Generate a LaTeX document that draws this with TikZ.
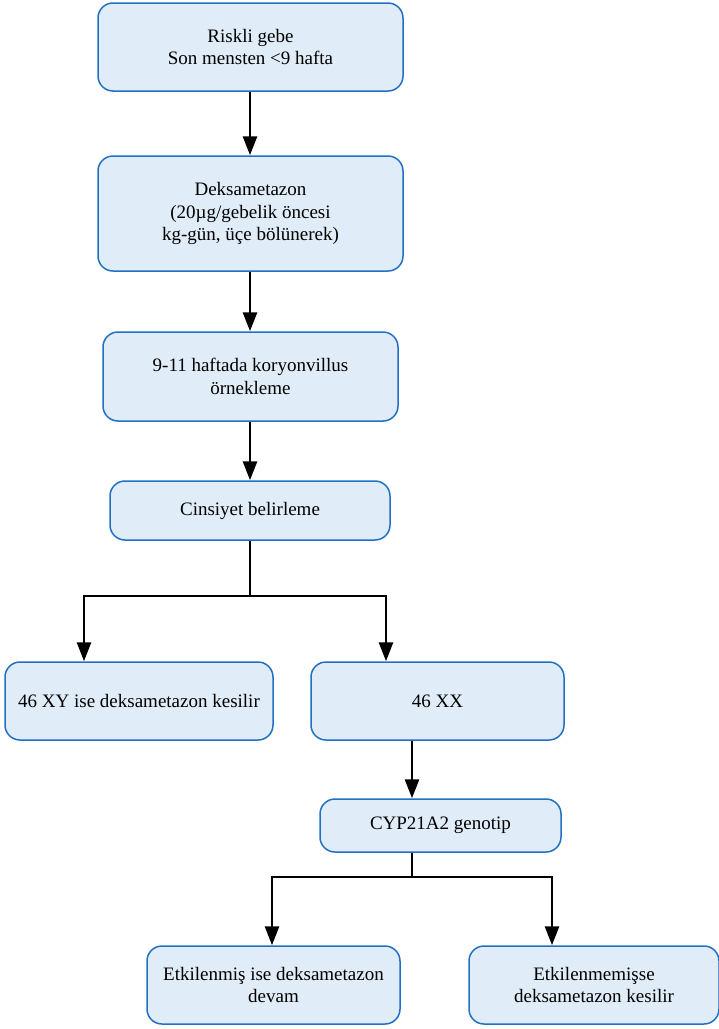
\documentclass[tikz,border=0pt]{standalone}
\usepackage{fontspec}
\setmainfont{Liberation Serif}
\usetikzlibrary{arrows.meta}
\definecolor{boxfill}{HTML}{E0ECF7}
\definecolor{boxline}{HTML}{2270C4}
\tikzset{
  flowbox/.style={draw=boxline, fill=boxfill, line width=1.5pt, rounded corners=15pt,
    align=center, inner sep=0pt, font=\fontsize{19}{22.5}\selectfont},
  link/.style={line width=2.8pt, -{Triangle[length=19pt,width=14pt]}},
  plainlink/.style={line width=2.8pt}
}
\begin{document}
\begin{tikzpicture}[x=1pt,y=-1pt]
\useasboundingbox (0,0) rectangle (719,1029);

\node[flowbox, minimum width=305pt, minimum height=88pt] (risk) at (250.5,47) {Riskli gebe\\Son mensten <9 hafta};
\node[flowbox, minimum width=305pt, minimum height=115pt] (deks) at (250.5,213.5) {Deksametazon\\(20µg/gebelik öncesi\\kg-gün, üçe bölünerek)};
\node[flowbox, minimum width=295pt, minimum height=89pt] (cvs) at (250.5,376.5) {9-11 haftada koryonvillus\\örnekleme};
\node[flowbox, minimum width=280pt, minimum height=59pt] (sex) at (250,510.5) {Cinsiyet belirleme};
\node[flowbox, minimum width=268pt, minimum height=78pt] (xy) at (139,701) {46 XY ise deksametazon kesilir};
\node[flowbox, minimum width=253pt, minimum height=78pt] (xx) at (437.5,701) {46 XX};
\node[flowbox, minimum width=241pt, minimum height=53pt] (geno) at (440.5,825.5) {CYP21A2 genotip};
\node[flowbox, minimum width=253pt, minimum height=78pt] (aff) at (273.5,985) {Etkilenmiş ise deksametazon\\devam};
\node[flowbox, minimum width=250pt, minimum height=78pt] (unaff) at (594,985) {Etkilenmemişse\\deksametazon kesilir};

\coordinate (split1) at (250,596);
\coordinate (split2) at (412,877);

\draw[link] (risk.south -| 250,0) -- (deks.north -| 250,0);
\draw[link] (deks.south -| 250,0) -- (cvs.north -| 250,0);
\draw[link] (cvs.south -| 250,0) -- (sex.north -| 250,0);
\draw[plainlink] (sex.south -| split1) -- (split1);
\draw[link] (split1) -| (xy.north -| 84,0);
\draw[link] (split1) -| (xx.north -| 386,0);
\draw[link] (xx.south -| split2) -- (geno.north -| split2);
\draw[plainlink] (geno.south -| split2) -- (split2);
\draw[link] (split2) -| (aff.north -| 272,0);
\draw[link] (split2) -| (unaff.north -| 552,0);
\end{tikzpicture}
\end{document}
